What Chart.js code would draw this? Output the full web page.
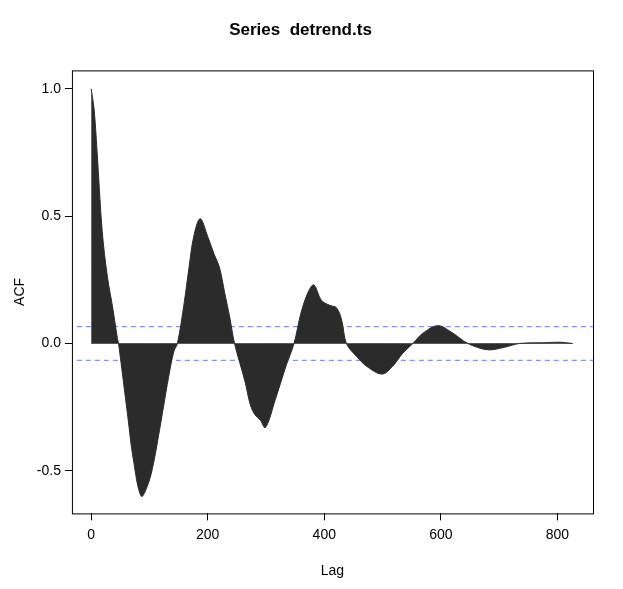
<!DOCTYPE html>
<html>
<head>
<meta charset="utf-8">
<script src="https://cdn.jsdelivr.net/npm/chart.js@4"></script>
<style>
body { margin: 0; background: #fff; }
#wrap { width: 623px; height: 589px; }
</style>
</head>
<body>
<div id="wrap"><canvas id="acfChart"></canvas></div>
<script>
// values
const lags = [0, 5, 10, 19, 28, 37, 45, 47, 63, 72, 86, 98, 107, 115, 124, 133, 142, 148, 159, 168, 176, 187, 200, 211, 220, 229, 238, 246, 264, 273, 281, 290, 299, 316, 334, 348, 360, 372, 382, 395, 409, 421, 430, 438, 455, 473, 499, 517, 534, 552, 569, 595, 621, 639, 656, 682, 709, 735, 779, 805, 826];
const acf = [1.0, 0.92, 0.76, 0.44, 0.26, 0.14, 0.02, 0.0, -0.29, -0.45, -0.60, -0.55, -0.47, -0.37, -0.25, -0.13, -0.03, 0.0, 0.15, 0.30, 0.42, 0.49, 0.42, 0.35, 0.30, 0.20, 0.10, 0.0, -0.15, -0.24, -0.28, -0.30, -0.33, -0.22, -0.09, 0.0, 0.12, 0.20, 0.23, 0.17, 0.15, 0.14, 0.09, 0.0, -0.05, -0.09, -0.12, -0.09, -0.04, 0.0, 0.04, 0.07, 0.04, 0.01, -0.01, -0.025, -0.015, 0.0, 0.003, 0.005, 0.0];
const ciBound = 0.066;
const xTicks = [0, 200, 400, 600, 800];
const yTicks = [-0.5, 0.0, 0.5, 1.0];

const points = lags.map((l, i) => ({ x: l, y: acf[i] }));
const span = [lags[0], lags[lags.length - 1]];

const boxPlugin = {
    id: 'box',
    afterDraw(chart) {
        const a = chart.chartArea, c = chart.ctx;
        c.save();
        c.strokeStyle = '#000';
        c.lineWidth = 1;
        c.strokeRect(a.left + 0.5, a.top + 0.5, a.width, a.height);
        c.restore();
    }
};

const tickGrid = { drawOnChartArea: false, drawTicks: true, tickLength: 7, color: '#000' };

new Chart(document.getElementById('acfChart').getContext('2d'), {
    type: 'line',
    data: {
        datasets: [
            { data: points, borderColor: '#2b2b2b', backgroundColor: '#2b2b2b', fill: 'origin', pointRadius: 0, borderWidth: 1, tension: 0.35 },
            { data: [{ x: span[0], y: 0 }, { x: span[1], y: 0 }], borderColor: '#888', borderWidth: 1, pointRadius: 0 },
            { data: [{ x: -40, y: ciBound }, { x: 900, y: ciBound }], borderColor: '#6677ee', borderDash: [5, 4], borderWidth: 1, pointRadius: 0 },
            { data: [{ x: -40, y: -ciBound }, { x: 900, y: -ciBound }], borderColor: '#6677ee', borderDash: [5, 4], borderWidth: 1, pointRadius: 0 }
        ]
    },
    options: {
        responsive: true,
        maintainAspectRatio: false,
        animation: false,
        layout: { padding: { top: 12, right: 30, left: 8, bottom: 5 } },
        plugins: {
            legend: { display: false },
            tooltip: { enabled: false },
            title: { display: true, text: 'Series  detrend.ts', color: '#000', font: { family: 'Liberation Sans', size: 17, weight: 'bold' }, padding: { top: 8, bottom: 30, left: 70 } }
        },
        scales: {
            x: {
                type: 'linear', min: -33, max: 861,
                grid: tickGrid,
                border: { display: false },
                afterBuildTicks: (s) => { s.ticks = xTicks.map(v => ({ value: v })); },
                ticks: { color: '#000', font: { family: 'Liberation Sans', size: 14 }, padding: 6 },
                title: { display: true, text: 'Lag', color: '#000', font: { family: 'Liberation Sans', size: 14 }, padding: { top: 14 } }
            },
            y: {
                min: -0.667, max: 1.072,
                grid: tickGrid,
                border: { display: false },
                afterBuildTicks: (s) => { s.ticks = yTicks.map(v => ({ value: v })); },
                ticks: { color: '#000', font: { family: 'Liberation Sans', size: 14 }, padding: 4, callback: v => v.toFixed(1) },
                title: { display: true, text: 'ACF', color: '#000', font: { family: 'Liberation Sans', size: 14 } }
            }
        }
    },
    plugins: [boxPlugin]
});
</script>
</body>
</html>
